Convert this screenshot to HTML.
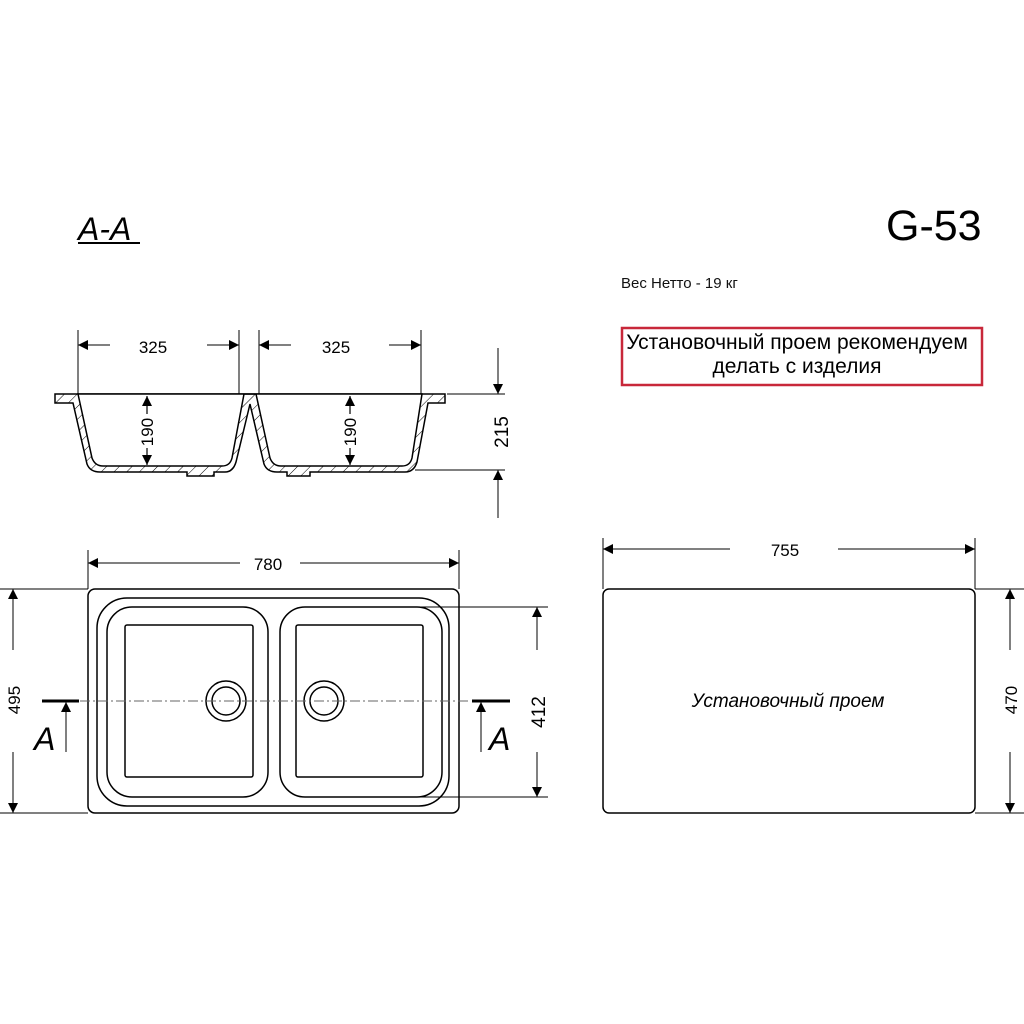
<!DOCTYPE html>
<html><head><meta charset="utf-8"><style>html,body{margin:0;padding:0;background:#fff}svg{display:block}</style></head>
<body>
<svg width="1024" height="1024" viewBox="0 0 1024 1024" xmlns="http://www.w3.org/2000/svg" font-family="Liberation Sans, sans-serif">
<defs>
<marker id="ar" viewBox="0 0 10 10" refX="10" refY="5" markerWidth="20" markerHeight="10" markerUnits="userSpaceOnUse" orient="auto"><path d="M0,0 L10,5 L0,10 z" fill="#000"/></marker>
<pattern id="h" width="9" height="9" patternUnits="userSpaceOnUse" patternTransform="rotate(45)"><line x1="0" y1="0" x2="0" y2="9" stroke="#000" stroke-width="1"/></pattern>
</defs>
<rect width="1024" height="1024" fill="#fff"/>
<text x="78" y="240" font-size="32" font-style="italic">A-A</text>
<line x1="78" y1="243" x2="140" y2="243" stroke="#000" stroke-width="2"/>
<text x="886" y="240" font-size="43">G-53</text>
<text x="621" y="288" font-size="15" fill="#111">Вес Нетто - 19 кг</text>
<rect x="622" y="328" width="360" height="57" fill="none" stroke="#c8283a" stroke-width="2.5"/>
<text x="797" y="349" font-size="21" text-anchor="middle">Установочный проем рекомендуем</text>
<text x="797" y="373" font-size="21" text-anchor="middle">делать с изделия</text>

<g stroke="#000" fill="none" stroke-width="1">
<line x1="78" y1="330" x2="78" y2="394"/><line x1="239" y1="330" x2="239" y2="394"/>
<line x1="259" y1="330" x2="259" y2="394"/><line x1="421" y1="330" x2="421" y2="394"/>
<line x1="110" y1="345" x2="78" y2="345" marker-end="url(#ar)"/><line x1="207" y1="345" x2="239" y2="345" marker-end="url(#ar)"/>
<line x1="291" y1="345" x2="259" y2="345" marker-end="url(#ar)"/><line x1="389" y1="345" x2="421" y2="345" marker-end="url(#ar)"/>
<line x1="447" y1="394" x2="505" y2="394"/><line x1="415" y1="470" x2="505" y2="470"/>
<line x1="498" y1="348" x2="498" y2="394" marker-end="url(#ar)"/><line x1="498" y1="518" x2="498" y2="470" marker-end="url(#ar)"/>
</g>
<path d="M55,394 L445,394 L445,403 L428,403 L417,462 Q414,472 405,472 L310,472 L310,476 L287,476 L287,472 L277,472 Q267,472 264,464 L250,404 L236,462 Q233,472 225,472 L214,472 L214,476 L187,476 L187,472 L100,472 Q90,472 87,464 L73,403 L55,403 Z" fill="url(#h)" stroke="#000" stroke-width="1.5"/>
<path d="M78,394 L92,458 Q95,466 103,466 L222,466 Q230,466 232,458 L244,394 L256,394 L270,458 Q273,466 281,466 L402,466 Q410,466 412,458 L422,394 Z" fill="#fff" stroke="#000" stroke-width="1.5"/>
<g stroke="#000" stroke-width="1.2">
<line x1="147" y1="414" x2="147" y2="396" marker-end="url(#ar)"/><line x1="147" y1="448" x2="147" y2="465" marker-end="url(#ar)"/>
<line x1="350" y1="414" x2="350" y2="396" marker-end="url(#ar)"/><line x1="350" y1="448" x2="350" y2="465" marker-end="url(#ar)"/>
</g>
<text x="336" y="353" font-size="17" text-anchor="middle">325</text>
<text x="153" y="353" font-size="17" text-anchor="middle">325</text>
<text transform="translate(153,432) rotate(-90)" font-size="17" text-anchor="middle">190</text>
<text transform="translate(356,432) rotate(-90)" font-size="17" text-anchor="middle">190</text>
<text transform="translate(508,432) rotate(-90)" font-size="19" text-anchor="middle">215</text>

<g stroke="#000" fill="none" stroke-width="1">
<line x1="88" y1="550" x2="88" y2="589"/><line x1="459" y1="550" x2="459" y2="589"/>
<line x1="240" y1="563" x2="88" y2="563" marker-end="url(#ar)"/><line x1="300" y1="563" x2="459" y2="563" marker-end="url(#ar)"/>
<line x1="0" y1="589" x2="88" y2="589"/><line x1="0" y1="813" x2="88" y2="813"/>
<line x1="13" y1="650" x2="13" y2="589" marker-end="url(#ar)"/><line x1="13" y1="752" x2="13" y2="813" marker-end="url(#ar)"/>
<line x1="420" y1="607" x2="548" y2="607"/><line x1="420" y1="797" x2="548" y2="797"/>
<line x1="537" y1="650" x2="537" y2="607" marker-end="url(#ar)"/><line x1="537" y1="752" x2="537" y2="797" marker-end="url(#ar)"/>
</g>
<rect x="88" y="589" width="371" height="224" rx="7" fill="none" stroke="#000" stroke-width="1.5"/>
<rect x="97" y="598" width="352" height="208" rx="30" fill="none" stroke="#000" stroke-width="1.5"/>
<rect x="107" y="607" width="161" height="190" rx="25" fill="none" stroke="#000" stroke-width="1.5"/>
<rect x="280" y="607" width="162" height="190" rx="25" fill="none" stroke="#000" stroke-width="1.5"/>
<rect x="125" y="625" width="128" height="152" rx="2" fill="none" stroke="#000" stroke-width="1.5"/>
<rect x="296" y="625" width="127" height="152" rx="2" fill="none" stroke="#000" stroke-width="1.5"/>
<circle cx="226" cy="701" r="20" fill="#fff" stroke="#000" stroke-width="1.5"/><circle cx="226" cy="701" r="14" fill="#fff" stroke="#000" stroke-width="1.5"/>
<circle cx="324" cy="701" r="20" fill="#fff" stroke="#000" stroke-width="1.5"/><circle cx="324" cy="701" r="14" fill="#fff" stroke="#000" stroke-width="1.5"/>
<line x1="80" y1="701" x2="468" y2="701" stroke="#666" stroke-width="1" stroke-dasharray="10,3,2,3"/>
<line x1="42" y1="701" x2="79" y2="701" stroke="#000" stroke-width="3"/>
<line x1="66" y1="752" x2="66" y2="702" stroke="#000" stroke-width="1" marker-end="url(#ar)"/>
<text x="34" y="750" font-size="32" font-style="italic">A</text>
<line x1="472" y1="701" x2="510" y2="701" stroke="#000" stroke-width="3"/>
<line x1="481" y1="752" x2="481" y2="702" stroke="#000" stroke-width="1" marker-end="url(#ar)"/>
<text x="489" y="750" font-size="32" font-style="italic">A</text>
<text x="268" y="570" font-size="17" text-anchor="middle">780</text>
<text transform="translate(20,700) rotate(-90)" font-size="17" text-anchor="middle">495</text>
<text transform="translate(545,712) rotate(-90)" font-size="19" text-anchor="middle">412</text>

<g stroke="#000" fill="none" stroke-width="1">
<line x1="603" y1="538" x2="603" y2="589"/><line x1="975" y1="538" x2="975" y2="589"/>
<line x1="730" y1="549" x2="603" y2="549" marker-end="url(#ar)"/><line x1="838" y1="549" x2="975" y2="549" marker-end="url(#ar)"/>
<line x1="975" y1="589" x2="1024" y2="589"/><line x1="975" y1="813" x2="1024" y2="813"/>
<line x1="1010" y1="650" x2="1010" y2="589" marker-end="url(#ar)"/><line x1="1010" y1="752" x2="1010" y2="813" marker-end="url(#ar)"/>
</g>
<rect x="603" y="589" width="372" height="224" rx="6" fill="none" stroke="#000" stroke-width="1.5"/>
<text x="785" y="556" font-size="17" text-anchor="middle">755</text>
<text transform="translate(1017,700) rotate(-90)" font-size="17" text-anchor="middle">470</text>
<text x="788" y="707" font-size="19" font-style="italic" text-anchor="middle">Установочный проем</text>
</svg>
</body></html>
